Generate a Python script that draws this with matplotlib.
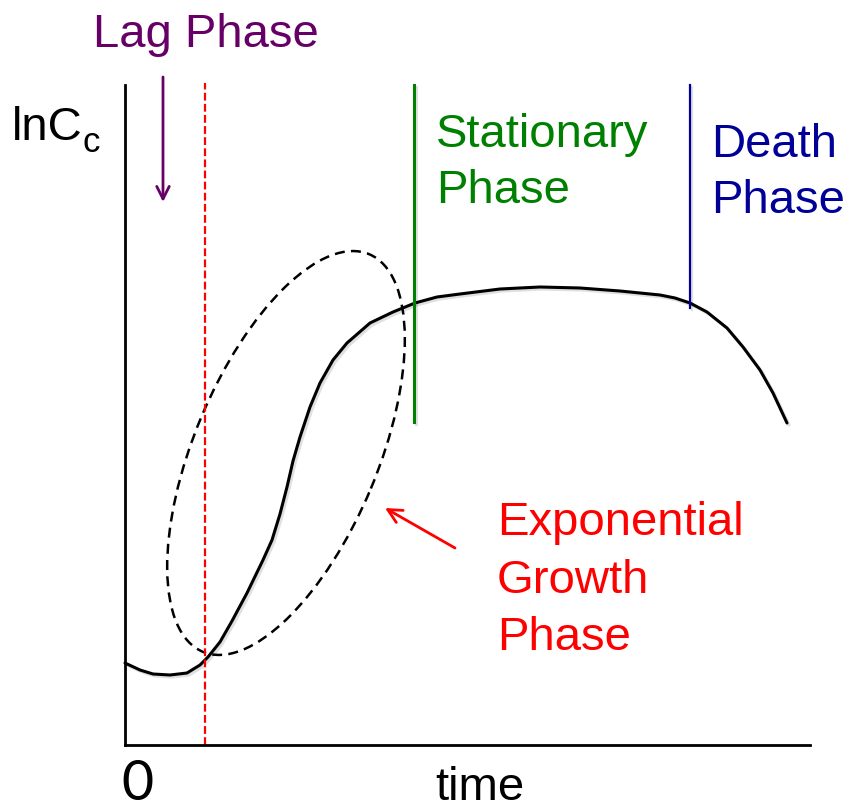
import matplotlib
matplotlib.use("Agg")
import matplotlib.pyplot as plt
from matplotlib.patches import Ellipse
import matplotlib.patheffects as pe

W, H = 848, 811

# growth curve (time, lnCc) in chart units (1 unit ~ 1 px)
curve_t = [0, 15, 28, 45, 62, 75, 83, 95, 107, 122, 138, 147, 155, 162, 168, 175,
           185, 195, 208, 222, 245, 268, 290, 312, 335, 375, 415, 455, 495, 535,
           550, 565, 582, 602, 618, 635, 648, 662]
curve_y = [82, 75, 71, 70, 72, 80, 88, 103, 124, 152, 185, 205, 231, 258, 284, 308,
           338, 362, 385, 402, 422, 433, 442, 448, 451, 456, 458, 457, 454, 450,
           447, 442, 433, 417, 398, 375, 352, 322]

# phase boundaries: (time, top)
lag_end_t, lag_top = 80, 662
stat_t, stat_top = 289, 323
death_t, death_top = 565, 437

# exponential phase ellipse (center, width, height, angle)
ell_center = (161, 292)
ell_w, ell_h, ell_angle = 431, 184, 67.3

fig = plt.figure(figsize=(W / 100, H / 100), dpi=100)
ax = fig.add_axes([125 / W, (H - 745) / H, 685 / W, 660 / H])
ax.set_xlim(0, 685)
ax.set_ylim(0, 660)
ax.set_xticks([])
ax.set_yticks([])
for s in ["top", "right"]:
    ax.spines[s].set_visible(False)
for s in ["left", "bottom"]:
    ax.spines[s].set_linewidth(2.0)
    ax.spines[s].set_color("black")

shadow = [pe.SimpleLineShadow(offset=(1.5, -1.5), shadow_color="k", alpha=0.12), pe.Normal()]

ax.plot(curve_t, curve_y, color="black", lw=2.2, solid_capstyle="round",
        solid_joinstyle="round", clip_on=False, path_effects=shadow)

ax.plot([lag_end_t, lag_end_t], [0, lag_top], color="red", lw=1.6,
        linestyle=(0, (3.5, 1.5)), clip_on=False)
ax.plot([stat_t, stat_t], [stat_top, 660], color="#008000", lw=2.2, clip_on=False,
        path_effects=shadow)
ax.plot([death_t, death_t], [death_top, 660], color="#000099", lw=1.6, clip_on=False,
        path_effects=shadow)

ell = Ellipse(ell_center, ell_w, ell_h, angle=ell_angle, fill=False, edgecolor="black",
              lw=1.8, linestyle=(0, (4, 2.5)), clip_on=False)
ax.add_patch(ell)

# arrows
ax.annotate("", xy=(38, 543), xytext=(38, 668), xycoords="data", textcoords="data",
            annotation_clip=False,
            arrowprops=dict(arrowstyle="->,head_length=0.9,head_width=0.45",
                            color="#660066", lw=2.0, shrinkA=0, shrinkB=0))
ax.annotate("", xy=(260, 237), xytext=(330, 197), xycoords="data", textcoords="data",
            annotation_clip=False,
            arrowprops=dict(arrowstyle="->,head_length=1.0,head_width=0.5",
                            color="red", lw=2.0, shrinkA=0, shrinkB=0))

FONT = "Liberation Sans"
FS = 34


def txt(x, y, s, color="black", size=FS, family=FONT, va="baseline"):
    fig.text(x / W, 1 - y / H, s, color=color, fontsize=size, family=family,
             ha="left", va=va)


txt(93, 47, "Lag Phase", "#660066")
txt(12, 140, "lnC")
txt(83, 152, "c", size=25)
txt(436, 147, "Stationary", "#008000")
txt(436, 203, "Phase", "#008000")
txt(711, 157, "Death", "#000099")
txt(711, 213, "Phase", "#000099")
txt(497, 535, "Exponential", "red")
txt(497, 593, "Growth", "red")
txt(497, 650, "Phase", "red")
txt(121, 810, "0", size=40, family="Lato", va="bottom")
txt(435, 800, "time")

fig.savefig("out.png", dpi=100)
